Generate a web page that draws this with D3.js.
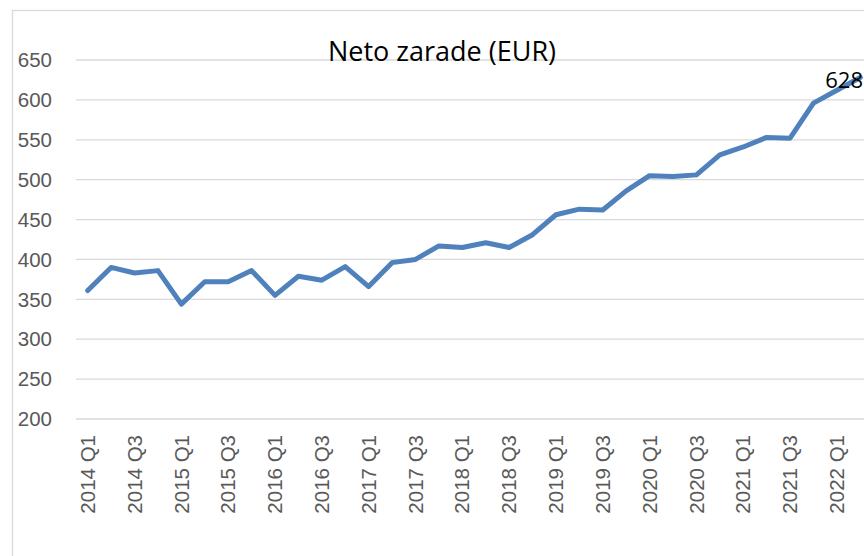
<!DOCTYPE html>
<html><head><meta charset="utf-8">
<script src="https://cdn.jsdelivr.net/npm/d3@7"></script>
<style>html,body{margin:0;padding:0;background:#fff;overflow:hidden}</style>
</head><body>
<script>
const categories = ["2014 Q1","2014 Q2","2014 Q3","2014 Q4","2015 Q1","2015 Q2","2015 Q3","2015 Q4",
"2016 Q1","2016 Q2","2016 Q3","2016 Q4","2017 Q1","2017 Q2","2017 Q3","2017 Q4",
"2018 Q1","2018 Q2","2018 Q3","2018 Q4","2019 Q1","2019 Q2","2019 Q3","2019 Q4",
"2020 Q1","2020 Q2","2020 Q3","2020 Q4","2021 Q1","2021 Q2","2021 Q3","2021 Q4",
"2022 Q1","2022 Q2"];
const values = [361,390,383,386,344,372,372,386,355,379,374,391,366,396,400,417,
415,421,415,431,456,463,462,486,505,504,506,531,541,553,552,596,612,628];
const yTicks = [200,250,300,350,400,450,500,550,600,650];
const title = "Neto zarade (EUR)";
const lastLabel = "628";

const W = 864, H = 556;
const svg = d3.select("body").append("svg").attr("width", W).attr("height", H);

// chart border
svg.append("rect").attr("x", 12.5).attr("y", 10.5).attr("width", 900).attr("height", 600)
  .attr("fill", "#fff").attr("stroke", "#d9d9d9").attr("stroke-width", 1.3);

const x = d3.scaleBand().domain(categories).range([76, 872]).padding(0);
const y = d3.scaleLinear().domain([200, 650]).range([419, 60]);
const cx = d => x(d) + x.bandwidth() / 2;

// gridlines
svg.append("g").selectAll("line").data(yTicks).join("line")
  .attr("x1", 76).attr("x2", 872)
  .attr("y1", d => y(d)).attr("y2", d => y(d))
  .attr("stroke", "#d9d9d9").attr("stroke-width", 1.3);

// y labels
svg.append("g").selectAll("text").data(yTicks).join("text")
  .attr("x", 52).attr("y", d => y(d)).attr("dy", "0.35em")
  .attr("text-anchor", "end")
  .attr("font-family", "Liberation Sans, Arial, sans-serif").attr("font-size", 20.5)
  .attr("fill", "#595959").text(d => d);

// x labels (every other)
svg.append("g").selectAll("text").data(categories.filter((d, i) => i % 2 === 0)).join("text")
  .attr("transform", d => `translate(${cx(d)},435) rotate(-90)`)
  .attr("dy", "0.35em").attr("text-anchor", "end")
  .attr("font-family", "Liberation Sans, Arial, sans-serif").attr("font-size", 20.5)
  .attr("fill", "#595959").text(d => d);

// line
const line = d3.line().x((d, i) => cx(categories[i])).y(d => y(d));
svg.append("path").datum(values).attr("d", line)
  .attr("fill", "none").attr("stroke", "#4f81bd").attr("stroke-width", 5)
  .attr("stroke-linejoin", "round").attr("stroke-linecap", "round");

// title
svg.append("text").attr("x", 442).attr("y", 61).attr("text-anchor", "middle")
  .attr("font-family", "Open Sans, Noto Sans, sans-serif").attr("font-size", 27)
  .attr("fill", "#000").text(title);

// last data label (kept inside the visible frame)
const li = values.length - 1;
svg.append("text").attr("x", W - 1).attr("y", y(values[li]) + 10)
  .attr("text-anchor", "end")
  .attr("font-family", "Open Sans, Noto Sans, sans-serif").attr("font-size", 22)
  .attr("fill", "#000").text(lastLabel);
</script>
</body></html>
